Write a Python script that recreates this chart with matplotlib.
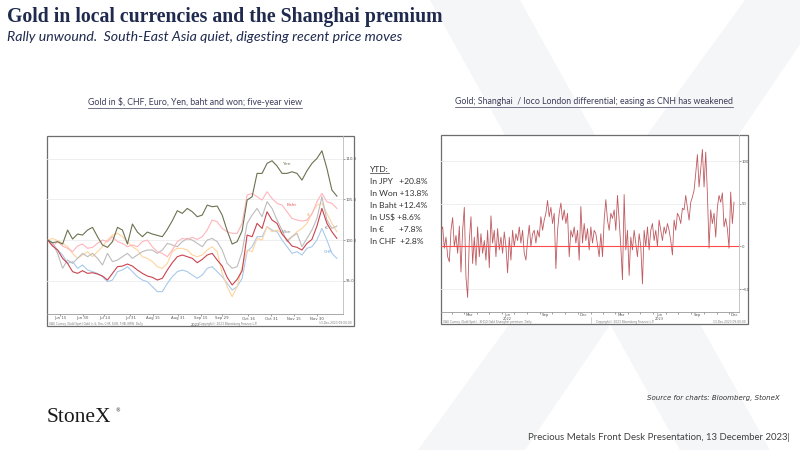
import numpy as np
import pandas as pd
import matplotlib
matplotlib.use('Agg')
import matplotlib.pyplot as plt
import matplotlib.dates as mdates
from matplotlib.patches import Rectangle, Polygon
from matplotlib.lines import Line2D

W, H = 800, 450

# left chart: gold in local currencies, indexed to 100 (Jun -> Dec 2023)
local_start, local_end = '2023-06-07', '2023-12-13'
yen = [100.0, 99.67, 99.80, 99.51, 101.23, 100.12, 100.74, 100.61, 101.23, 101.56,
       100.41, 99.39, 99.10, 99.80, 101.56, 101.23, 99.51, 101.97, 100.98, 100.41,
       100.98, 100.74, 100.57, 100.41, 101.31, 102.38, 103.61, 103.28, 103.89, 103.48,
       102.87, 103.07, 104.30, 104.10, 104.18, 103.07, 101.15, 99.51, 99.80, 101.15,
       104.92, 105.33, 108.20, 108.20, 109.43, 109.75, 109.10, 108.20, 108.20, 108.40,
       108.20, 107.38, 108.52, 109.43, 110.04, 110.98, 108.81, 106.15, 105.41]
baht = [100.0, 99.26, 99.80, 99.26, 98.98, 98.57, 99.26, 99.51, 98.98, 99.10,
        99.59, 100.00, 99.80, 100.41, 99.80, 99.59, 99.18, 99.39, 99.18, 99.80,
        100.00, 99.18, 98.57, 98.36, 97.95, 98.77, 99.80, 100.20, 100.08, 100.33,
        100.08, 100.41, 101.23, 102.46, 102.25, 101.43, 101.02, 100.82, 100.82, 102.05,
        105.53, 105.74, 105.33, 104.92, 105.94, 105.12, 104.51, 104.30, 103.48, 102.66,
        102.46, 102.34, 102.46, 103.20, 104.71, 105.74, 104.71, 104.51, 103.89]
won = [100.0, 99.59, 98.36, 96.52, 97.54, 97.13, 97.75, 98.36, 97.95, 98.36,
       97.75, 96.93, 98.36, 97.34, 97.54, 97.95, 98.36, 97.75, 98.16, 98.57,
       98.77, 98.77, 98.36, 98.77, 99.59, 99.39, 99.18, 99.80, 100.20, 100.00,
       99.59, 99.18, 100.00, 100.20, 99.80, 98.77, 97.13, 96.52, 96.72, 98.57,
       102.05, 103.07, 103.89, 102.87, 104.71, 103.89, 102.46, 101.23, 99.80, 100.41,
       100.82, 99.18, 100.20, 101.23, 102.66, 105.33, 102.46, 101.43, 101.72]
usd = [100.0, 100.20, 99.92, 99.59, 99.18, 98.36, 97.75, 98.16, 98.57, 97.95,
       98.57, 99.18, 100.00, 100.61, 100.82, 100.41, 99.80, 99.18, 98.77, 97.95,
       97.75, 97.34, 96.72, 96.52, 97.13, 98.57, 98.98, 98.98, 98.77, 98.16,
       97.95, 98.16, 98.77, 99.18, 98.57, 95.90, 94.26, 93.03, 94.26, 96.72,
       98.77, 98.57, 100.20, 100.00, 101.64, 101.02, 101.23, 100.82, 100.00, 100.41,
       101.02, 101.43, 102.05, 103.28, 104.30, 104.51, 103.28, 102.05, 101.02]
eur = [100.0, 99.26, 98.77, 97.75, 97.13, 96.11, 95.90, 96.23, 95.90, 95.98,
       95.82, 95.57, 95.08, 95.90, 96.72, 96.80, 97.05, 96.80, 96.31, 95.90,
       95.57, 95.41, 95.08, 95.29, 96.31, 97.21, 97.95, 98.16, 97.95, 97.75,
       97.21, 97.62, 98.16, 98.36, 97.54, 96.80, 95.41, 94.47, 95.16, 96.23,
       100.61, 100.41, 102.05, 101.43, 103.48, 102.46, 102.05, 100.74, 100.00, 99.26,
       99.10, 98.77, 99.59, 100.08, 101.72, 103.89, 102.05, 101.02, 100.20]
chf = [100.0, 99.59, 98.77, 98.16, 97.13, 97.34, 96.52, 96.93, 96.31, 96.11,
       95.90, 95.49, 94.88, 95.08, 96.11, 96.31, 96.72, 96.11, 95.49, 95.08,
       94.88, 94.26, 93.65, 93.65, 94.67, 95.49, 96.11, 96.31, 96.11, 95.70,
       95.29, 95.70, 96.52, 96.72, 96.11, 95.49, 94.67, 93.85, 94.26, 95.29,
       98.57, 99.18, 100.41, 100.41, 101.64, 101.23, 101.02, 100.00, 99.18, 98.36,
       98.57, 98.16, 98.98, 99.18, 100.00, 101.43, 100.00, 98.36, 97.75]
local_ticks = ['2023-06-15', '2023-06-30', '2023-07-14', '2023-07-31', '2023-08-15', '2023-08-31',
               '2023-09-15', '2023-09-29', '2023-10-16', '2023-10-31', '2023-11-15', '2023-11-30']
local_tick_labels = ['Jun 15', 'Jun 30', 'Jul 14', 'Jul 31', 'Aug 15', 'Aug 31',
                     'Sep 15', 'Sep 29', 'Oct 16', 'Oct 31', 'Nov 15', 'Nov 30']
ytd_lines = ['In JPY   +20.8%', 'In Won +13.8%', 'In Baht +12.4%',
             'In US\\$ +8.6%', 'In €       +7.8%', 'In CHF  +2.8%']

# right chart: Shanghai / loco London differential, $/oz (Jan 2022 -> Dec 2023)
premium_start, premium_end = '2022-01-05', '2023-12-13'
premium = [19, 23, -2, 11, -12, -18, 19, 34, 0, 13, -8, 24, -30, 19, 46, -36, -60, 7, 35, -20,
           11, -22, 23, -12, 15, -8, 7, -16, 19, -25, 36, 4, 19, -12, 21, -4, 11, -8, 17, 0,
           -31, 11, -16, 19, 0, 15, 7, 23, 4, 19, -8, -16, 7, 25, 0, 15, 19, 4, 19, 11,
           35, 19, 31, 39, 54, 35, 46, 27, 39, -26, 19, 39, 51, 31, 43, 27, 39, -12, 19, 11,
           23, 4, 19, -16, 47, 4, 27, 7, 21, -4, 23, 4, 19, 15, 2, -12, 15, -12, 31, 55,
           31, 19, 39, 33, 43, 19, 60, 31, 0, -39, 61, -4, 19, -34, 11, -4, 19, 4, -12, 15,
           0, -44, 19, 0, 23, -4, 19, 27, 7, 19, 0, 31, 19, 7, 23, 15, 27, 19, 7, -10,
           31, 19, 39, 35, 27, 45, 43, 60, 45, 31, 52, 58, 66, 86, 108, 70, 91, 114, 70, 111,
           62, -2, 43, 27, 39, 11, 46, 60, 52, 63, 23, 33, 21, -2, 64, 27, 52]
premium_months = ['Mar', 'Jun', 'Sep', 'Dec', 'Mar', 'Jun', 'Sep', 'Dec']
premium_month_pos = ['2022-03-15', '2022-06-15', '2022-09-15', '2022-12-15',
                     '2023-03-15', '2023-06-15', '2023-09-15', '2023-12-15']

fig = plt.figure(figsize=(8, 4.5), dpi=100)


def fx(px):
    return px / W


def fy(py):
    return 1 - py / H


def box(x0, y0, x1, y1):
    return [fx(x0), fy(y1), (x1 - x0) / W, (y1 - y0) / H]


# faint watermark X behind everything
wm = '#f5f6f8'
fig.add_artist(Polygon([(fx(745), fy(0)), (fx(830), fy(0)), (fx(525), fy(450)), (fx(418), fy(450))],
                       closed=True, transform=fig.transFigure, color=wm, zorder=-5, lw=0))
fig.add_artist(Polygon([(fx(430), fy(0)), (fx(520), fy(0)), (fx(770), fy(450)), (fx(680), fy(450))],
                       closed=True, transform=fig.transFigure, color=wm, zorder=-5, lw=0))

navy = '#1f2a4e'
fig.text(fx(7), fy(17), 'Gold in local currencies and the Shanghai premium', fontsize=14.2,
         family='Liberation Serif', weight='bold', color=navy, va='center')
fig.text(fx(7), fy(37), 'Rally unwound.  South-East Asia quiet, digesting recent price moves',
         fontsize=10.15, family='Lato', style='italic', color=navy, va='center')


def underline(t, color):
    fig.canvas.draw()
    bb = t.get_window_extent().transformed(fig.transFigure.inverted())
    fig.add_artist(Line2D([bb.x0, bb.x1], [bb.y0 - 0.002, bb.y0 - 0.002], color=color, lw=0.5,
                          transform=fig.transFigure))


cap_col = '#3c3c5a'
t1 = fig.text(fx(195), fy(102), 'Gold in \\$, CHF, Euro, Yen, baht and won; five-year view',
              fontsize=6.3, family='Lato', color=cap_col, ha='center', va='center')
t2 = fig.text(fx(594), fy(102), 'Gold; Shanghai  / loco London differential; easing as CNH has weakened',
              fontsize=6.3, family='Lato', color=cap_col, ha='center', va='center')
underline(t1, cap_col)
underline(t2, cap_col)

# chart frames
frame_col = '#6d6d6d'
for (x0, y0, x1, y1) in [(47, 136, 354, 326), (441, 135, 748, 324)]:
    fig.add_artist(Rectangle((fx(x0), fy(y1)), (x1 - x0) / W, (y1 - y0) / H, transform=fig.transFigure,
                             facecolor='white', edgecolor=frame_col, lw=0.9, zorder=-1))

tick_col = '#555555'
foot = dict(fontsize=2.1, color='#777777', va='center')

# ---- left chart ----
ax1 = fig.add_axes(box(47, 136, 343, 314))
ax1.set_facecolor('none')
d1 = pd.date_range(local_start, local_end, periods=len(yen))
series = [(chf, '#a9c9ec'), (usd, '#ffd49e'), (won, '#bcbcbc'), (baht, '#ffb4bb'),
          (eur, '#c9434f'), (yen, '#6b7250')]
for vals, col in series:
    ax1.plot(d1, vals, color=col, lw=0.8)
ax1.set_xlim(pd.Timestamp('2023-06-06 14:00'), pd.Timestamp('2023-12-17'))
ax1.set_ylim(90.9, 112.8)
ax1.set_yticks([95, 100, 105, 110])
ax1.set_yticklabels(['95.0', '100.0', '105.0', '110.0'])
ax1.yaxis.tick_right()
ax1.grid(axis='y', color='#ececec', lw=0.6)
ax1.set_xticks(pd.to_datetime(local_ticks))
ax1.set_xticklabels(local_tick_labels)
ax1.tick_params(labelsize=2.8, colors=tick_col, length=1.2, width=0.4, pad=0.6)
for s in ['left', 'top']:
    ax1.spines[s].set_visible(False)
ax1.spines['right'].set_color('#bbbbbb')
ax1.spines['bottom'].set_color('#999999')
for s in ['right', 'bottom']:
    ax1.spines[s].set_linewidth(0.6)
ax1.text(0.5, -0.05, '2023', transform=ax1.transAxes, fontsize=2.6, color=tick_col, ha='center', va='top')
lbls = [('Yen', 0.81, 0.84, '#6b7250'), ('Baht', 0.827, 0.61, '#e8605e'), ('Won', 0.81, 0.46, '#888888'),
        ('\\$', 0.881, 0.56, '#f0a040'), ('€', 0.945, 0.485, '#555555'), ('CHF', 0.95, 0.35, '#6fa8e0')]
for txt, x, y, col in lbls:
    ax1.text(x, y, txt, transform=ax1.transAxes, fontsize=3.2, color=col, ha='center', va='center')

fig.text(fx(49), fy(323.5), 'XAU Curncy (Gold Spot) Gold in \\$, Yen, CHF, EUR, THB, KRW  Daily', **foot)
fig.text(fx(228), fy(323.5), 'Copyright© 2023 Bloomberg Finance L.P.', ha='center', **foot)
fig.text(fx(352), fy(323.5), '13-Dec-2023 09:00:00', ha='right', **foot)

# YTD box
ytd_col = '#333333'
ty = fig.text(fx(370), fy(169), 'YTD:', fontsize=6.1, family='Lato', color=ytd_col, va='center')
underline(ty, ytd_col)
for i, line in enumerate(ytd_lines):
    fig.text(fx(370), fy(181.5 + 12 * i), line, fontsize=6.1, family='Lato', color=ytd_col, va='center')

# ---- right chart ----
ax2 = fig.add_axes(box(441, 135, 739, 312))
ax2.set_facecolor('none')
d2 = pd.date_range(premium_start, premium_end, periods=len(premium))
ax2.plot(d2, premium, color='#bf5a60', lw=0.6)
ax2.axhline(0, color='#ff4a4a', lw=0.8)
ax2.set_xlim(pd.Timestamp('2022-01-05'), pd.Timestamp('2023-12-25'))
ax2.set_ylim(-77, 131)
ax2.set_yticks([-50, 0, 50, 100])
ax2.yaxis.tick_right()
ax2.grid(axis='y', color='#ececec', lw=0.6)
ax2.set_xticks(pd.to_datetime(premium_month_pos))
ax2.set_xticklabels(premium_months)
ax2.xaxis.set_minor_locator(mdates.MonthLocator())
ax2.tick_params(axis='x', which='major', length=0)
ax2.tick_params(which='both', labelsize=2.8, colors=tick_col, width=0.4, pad=0.6)
ax2.tick_params(axis='x', which='minor', length=1.2)
ax2.tick_params(axis='y', length=1.2)
for s in ['left', 'top']:
    ax2.spines[s].set_visible(False)
ax2.spines['right'].set_color('#bbbbbb')
ax2.spines['bottom'].set_color('#999999')
for s in ['right', 'bottom']:
    ax2.spines[s].set_linewidth(0.6)
xt = ax2.get_xaxis_transform()
for yr in ['2022-06-15', '2023-06-15']:
    ax2.text(pd.Timestamp(yr), -0.028, yr[:4], transform=xt, fontsize=2.5, color=tick_col, ha='center', va='top')
ax2.plot([pd.Timestamp('2023-01-01')] * 2, [-0.03, -0.06], transform=xt, color='#aaaaaa', lw=0.4, clip_on=False)
fig.text(fx(443), fy(322.3), 'XAU Curncy (Gold Spot) - SHGD Gold Shanghai premium  Daily', **foot)
fig.text(fx(625), fy(322.3), 'Copyright© 2023 Bloomberg Finance L.P.', ha='center', **foot)
fig.text(fx(746), fy(322.3), '13-Dec-2023 09:00:00', ha='right', **foot)

# footer
fig.text(fx(780), fy(398), 'Source for charts: Bloomberg, StoneX', fontsize=5, style='italic',
         family=['Liberation Sans Narrow', 'DejaVu Sans'], color='#333333', ha='right', va='center')
fig.text(fx(47), fy(418), 'StoneX', fontsize=15.5, family='Liberation Serif', color='#1a1a1a', va='center')
fig.text(fx(115), fy(411), '®', fontsize=3.5, color='#1a1a1a', va='center')
fig.text(fx(790), fy(437), 'Precious Metals Front Desk Presentation, 13 December 2023|', fontsize=6.9,
         family='Lato', color='#404040', ha='right', va='center')

fig.savefig('out.png', dpi=100)
